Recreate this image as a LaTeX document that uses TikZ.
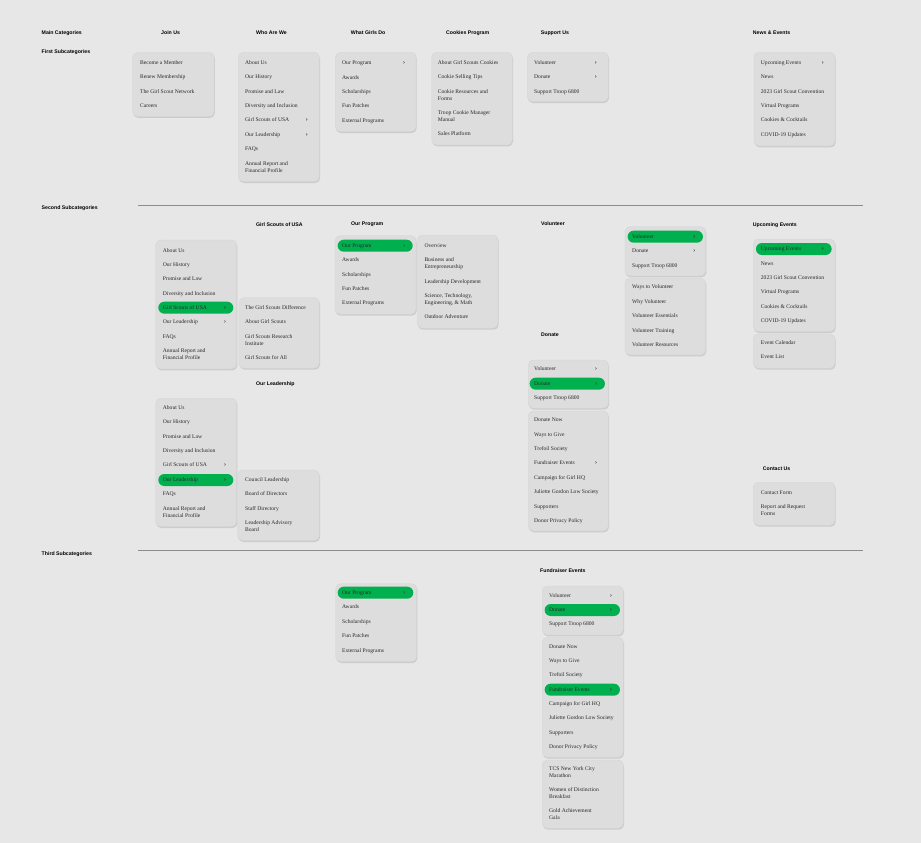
\documentclass[tikz,border=0pt]{standalone}
\usepackage{fontspec}
\setmainfont{Liberation Serif}
\newfontfamily\hfont{Liberation Sans}
\usetikzlibrary{shadows}
\definecolor{bg}{RGB}{231,231,231}
\definecolor{boxfill}{RGB}{221,221,221}
\definecolor{boxline}{RGB}{210,210,210}
\definecolor{gsgreen}{RGB}{0,176,78}
\definecolor{ink}{RGB}{40,40,40}
\definecolor{rule}{RGB}{140,140,140}
\newcommand\itemfont{\fontsize{5.6}{7}\selectfont}
\newcommand\chevfont{\fontsize{7}{7}\selectfont}
\newcommand\headfont{\hfont\bfseries\fontsize{5.2}{6}\selectfont}
\tikzset{
  menubox/.style={draw=boxline, fill=boxfill, rounded corners=5pt, line width=0.3pt,
    drop shadow={shadow xshift=0.7pt, shadow yshift=-1.4pt, opacity=0.26},
    anchor=north west, inner sep=0pt, outer sep=0pt},
  item/.style={anchor=west, inner sep=0pt, font=\itemfont, text=ink, align=left, text height=3.9pt, text depth=1.2pt},
  chev/.style={inner sep=0pt, font=\chevfont, text=ink},
  pill/.style={fill=gsgreen, rounded corners=6pt, minimum height=12pt, inner sep=0pt},
  head/.style={anchor=west, inner sep=0pt, font=\headfont, text=black},
  sep/.style={draw=rule, line width=0.8pt}
}
\begin{document}
\begin{tikzpicture}[x=1pt,y=-1pt]
\fill[bg] (0,0) rectangle (921,843);
\useasboundingbox (0,0) rectangle (921,843);

% ---------- headings ----------
\node[head] (h-main) at (41.5,33) {Main Categories};
\node[head] (h-join) at (161,33) {Join Us};
\node[head] (h-who) at (256,33) {Who Are We};
\node[head] (h-what) at (350.7,33) {What Girls Do};
\node[head] (h-cook) at (446,33) {Cookies Program};
\node[head] (h-supp) at (540.7,33) {Support Us};
\node[head] (h-news) at (752.7,33) {News \& Events};
\node[head] (h-first) at (41.5,52) {First Subcategories};
\node[head] (h-second) at (41.5,208) {Second Subcategories};
\node[head] (h-third) at (41.5,553.7) {Third Subcategories};

\coordinate (s1a) at (138,205); \coordinate (s1b) at (863,205);
\coordinate (s2a) at (138,550.3); \coordinate (s2b) at (863,550.3);
\draw[sep] (s1a) -- (s1b);
\draw[sep] (s2a) -- (s2b);

% ---------- First subcategories ----------
% Join Us
\node[menubox, minimum width=81.5pt, minimum height=64pt] (b-join) at (132.7,52.5) {};
\node[item] (join-1) at (140,63) {Become a Member};
\node[item] (join-2) at (140,77.3) {Renew Membership};
\node[item] (join-3) at (140,91.7) {The Girl Scout Network};
\node[item] (join-4) at (140,106) {Careers};

% Who Are We
\node[menubox, minimum width=81pt, minimum height=129.4pt] (b-who) at (238.3,52.3) {};
\node[item] (who-1) at (245,62.7) {About Us};
\node[item] (who-2) at (245,77.3) {Our History};
\node[item] (who-3) at (245,91.7) {Promise and Law};
\node[item] (who-4) at (245,106) {Diversity and Inclusion};
\node[item] (who-5) at (245,120) {Girl Scouts of USA};
\node[chev] (who-5c) at (306.7,120) {›};
\node[item] (who-6) at (245,134.7) {Our Leadership};
\node[chev] (who-6c) at (306.7,134.7) {›};
\node[item] (who-7) at (245,149.3) {FAQs};
\node[item] (who-8) at (245,170.7) {Annual Report and\\Financial Profile};

% What Girls Do
\node[menubox, minimum width=80.7pt, minimum height=79.4pt] (b-what) at (335.3,52.3) {};
\node[item] (what-1) at (342,63) {Our Program};
\node[chev] (what-1c) at (404,63) {›};
\node[item] (what-2) at (342,77.7) {Awards};
\node[item] (what-3) at (342,92) {Scholarships};
\node[item] (what-4) at (342,106.3) {Fun Patches};
\node[item] (what-5) at (342,120.7) {External Programs};

% Cookies Program
\node[menubox, minimum width=80.6pt, minimum height=92.7pt] (b-cook) at (431.7,52.3) {};
\node[item] (cook-1) at (437.7,63) {About Girl Scouts Cookies};
\node[item] (cook-2) at (437.7,77.3) {Cookie Selling Tips};
\node[item] (cook-3) at (437.7,98.7) {Cookie Resources and\\Forms};
\node[item] (cook-4) at (437.7,120) {Troop Cookie Manager\\Manual};
\node[item] (cook-5) at (437.7,134.3) {Sales Platform};

% Support Us
\node[menubox, minimum width=81pt, minimum height=49.4pt] (b-supp) at (527.3,52.3) {};
\node[item] (supp-1) at (534,63) {Volunteer};
\node[chev] (supp-1c) at (595.7,63) {›};
\node[item] (supp-2) at (534,77.3) {Donate};
\node[chev] (supp-2c) at (595.7,77.3) {›};
\node[item] (supp-3) at (534,91.7) {Support Troop 6800};

% News & Events
\node[menubox, minimum width=81pt, minimum height=93.7pt] (b-news) at (754,52.3) {};
\node[item] (news-1) at (760.7,63) {Upcoming Events};
\node[chev] (news-1c) at (822.7,63) {›};
\node[item] (news-2) at (760.7,77.3) {News};
\node[item] (news-3) at (760.7,91.7) {2023 Girl Scout Convention};
\node[item] (news-4) at (760.7,106) {Virtual Programs};
\node[item] (news-5) at (760.7,120.3) {Cookies \& Cocktails};
\node[item] (news-6) at (760.7,134.7) {COVID-19 Updates};

% ---------- Second subcategories ----------
% Girl Scouts of USA
\node[head] (h-gsusa) at (256,224.7) {Girl Scouts of USA};
\node[menubox, minimum width=81pt, minimum height=129pt] (b-a1) at (155.7,240) {};
\node[item] (a1-1) at (162.7,250.7) {About Us};
\node[item] (a1-2) at (162.7,265) {Our History};
\node[item] (a1-3) at (162.7,279.3) {Promise and Law};
\node[item] (a1-4) at (162.7,293.7) {Diversity and Inclusion};
\node[pill, minimum width=75pt] (a1-5p) at (195.8,307.7) {};
\node[item] (a1-5) at (162.7,307.7) {Girl Scouts of USA};
\node[chev] (a1-5c) at (225,307.7) {›};
\node[item] (a1-6) at (162.7,322.3) {Our Leadership};
\node[chev] (a1-6c) at (225,322.3) {›};
\node[item] (a1-7) at (162.7,336.7) {FAQs};
\node[item] (a1-8) at (162.7,358) {Annual Report and\\Financial Profile};

\node[menubox, minimum width=80.3pt, minimum height=70.6pt] (b-a2) at (239,297.7) {};
\node[item] (a2-1) at (245,307.7) {The Girl Scouts Difference};
\node[item] (a2-2) at (245,322.3) {About Girl Scouts};
\node[item] (a2-3) at (245,343.7) {Girl Scouts Research\\Institute};
\node[item] (a2-4) at (245,358) {Girl Scouts for All};

% Our Leadership
\node[head] (h-lead) at (256,384.3) {Our Leadership};
\node[menubox, minimum width=81pt, minimum height=128.4pt] (b-b1) at (155.7,398.3) {};
\node[item] (b1-1) at (162.7,408) {About Us};
\node[item] (b1-2) at (162.7,422.3) {Our History};
\node[item] (b1-3) at (162.7,436.7) {Promise and Law};
\node[item] (b1-4) at (162.7,451) {Diversity and Inclusion};
\node[item] (b1-5) at (162.7,465.3) {Girl Scouts of USA};
\node[chev] (b1-5c) at (225,465.3) {›};
\node[pill, minimum width=75pt] (b1-6p) at (195.8,480) {};
\node[item] (b1-6) at (162.7,480) {Our Leadership};
\node[chev] (b1-6c) at (225,480) {›};
\node[item] (b1-7) at (162.7,494.3) {FAQs};
\node[item] (b1-8) at (162.7,515.7) {Annual Report and\\Financial Profile};

\node[menubox, minimum width=81.6pt, minimum height=70.7pt] (b-b2) at (237.7,470) {};
\node[item] (b2-1) at (245,480) {Council Leadership};
\node[item] (b2-2) at (245,494.3) {Board of Directors};
\node[item] (b2-3) at (245,508.7) {Staff Directory};
\node[item] (b2-4) at (245,530) {Leadership Advisory\\Board};

% Our Program
\node[head] (h-prog) at (351,224.7) {Our Program};
\node[menubox, minimum width=81pt, minimum height=78.6pt] (b-c1) at (335,235.7) {};
\node[pill, minimum width=75pt] (c1-1p) at (375.2,245.7) {};
\node[item] (c1-1) at (342,245.7) {Our Program};
\node[chev] (c1-1c) at (404,245.7) {›};
\node[item] (c1-2) at (342,260) {Awards};
\node[item] (c1-3) at (342,274.7) {Scholarships};
\node[item] (c1-4) at (342,289) {Fun Patches};
\node[item] (c1-5) at (342,303.3) {External Programs};

\node[menubox, minimum width=80.7pt, minimum height=93.3pt] (b-c2) at (417.3,235) {};
\node[item] (c2-1) at (424.3,246) {Overview};
\node[item] (c2-2) at (424.3,267.3) {Business and\\Entrepreneurship};
\node[item] (c2-3) at (424.3,281.7) {Leadership Development};
\node[item] (c2-4) at (424.3,303) {Science, Technology,\\Engineering, \& Math};
\node[item] (c2-5) at (424.3,317) {Outdoor Adventure};

% Volunteer
\node[head] (h-vol) at (541,224) {Volunteer};
\node[menubox, minimum width=80.7pt, minimum height=49.3pt] (b-d1) at (625,226.7) {};
\node[pill, minimum width=75.3pt] (d1-1p) at (665.3,236.7) {};
\node[item] (d1-1) at (632,236.7) {Volunteer};
\node[chev] (d1-1c) at (694.3,236.7) {›};
\node[item] (d1-2) at (632,251) {Donate};
\node[chev] (d1-2c) at (694.3,251) {›};
\node[item] (d1-3) at (632,265.7) {Support Troop 6800};

\node[menubox, minimum width=80.7pt, minimum height=76.7pt] (b-d2) at (625,278.3) {};
\node[item] (d2-1) at (632,287) {Ways to Volunteer};
\node[item] (d2-2) at (632,301.7) {Why Volunteer};
\node[item] (d2-3) at (632,316) {Volunteer Essentials};
\node[item] (d2-4) at (632,330.7) {Volunteer Training};
\node[item] (d2-5) at (632,345) {Volunteer Resources};

% Donate
\node[head] (h-don) at (541,334.3) {Donate};
\node[menubox, minimum width=80pt, minimum height=48.3pt] (b-e1) at (528.3,360) {};
\node[item] (e1-1) at (534,369.3) {Volunteer};
\node[chev] (e1-1c) at (596,369.3) {›};
\node[pill, minimum width=75.3pt] (e1-2p) at (567.3,383.7) {};
\node[item] (e1-2) at (534,383.7) {Donate};
\node[chev] (e1-2c) at (596,383.7) {›};
\node[item] (e1-3) at (534,398.3) {Support Troop 6800};

\node[menubox, minimum width=80pt, minimum height=120pt] (b-e2) at (528.3,411) {};
\node[item] (e2-1) at (534,420.3) {Donate Now};
\node[item] (e2-2) at (534,434.7) {Ways to Give};
\node[item] (e2-3) at (534,449.3) {Trefoil Society};
\node[item] (e2-4) at (534,463.3) {Fundraiser Events};
\node[chev] (e2-4c) at (596,463.3) {›};
\node[item] (e2-5) at (534,478) {Campaign for Girl HQ};
\node[item] (e2-6) at (534,492.3) {Juliette Gordon Low Society};
\node[item] (e2-7) at (534,506.7) {Supporters};
\node[item] (e2-8) at (534,521) {Donor Privacy Policy};

% Upcoming Events
\node[head] (h-upc) at (752.7,224.7) {Upcoming Events};
\node[menubox, minimum width=81.7pt, minimum height=92.7pt] (b-f1) at (753.3,239) {};
\node[pill, minimum width=75.7pt] (f1-1p) at (793.8,249) {};
\node[item] (f1-1) at (760.7,249) {Upcoming Events};
\node[chev] (f1-1c) at (822.7,249) {›};
\node[item] (f1-2) at (760.7,263.7) {News};
\node[item] (f1-3) at (760.7,278) {2023 Girl Scout Convention};
\node[item] (f1-4) at (760.7,292.3) {Virtual Programs};
\node[item] (f1-5) at (760.7,306.7) {Cookies \& Cocktails};
\node[item] (f1-6) at (760.7,321) {COVID-19 Updates};

\node[menubox, minimum width=81.7pt, minimum height=34.3pt] (b-f2) at (753.3,334) {};
\node[item] (f2-1) at (760.7,342.7) {Event Calendar};
\node[item] (f2-2) at (760.7,357) {Event List};

% Contact Us
\node[head] (h-cont) at (762.7,468.3) {Contact Us};
\node[menubox, minimum width=81.7pt, minimum height=43pt] (b-g) at (753.3,482.3) {};
\node[item] (g-1) at (760.7,492.7) {Contact Form};
\node[item] (g-2) at (760.7,514.3) {Report and Request\\Forms};

% ---------- Third subcategories ----------
\node[menubox, minimum width=81pt, minimum height=78pt] (b-h) at (335.7,583.7) {};
\node[pill, minimum width=75.6pt] (h-1p) at (375.5,592.7) {};
\node[item] (h-1) at (342,592.7) {Our Program};
\node[chev] (h-1c) at (404,592.7) {›};
\node[item] (h-2) at (342,607.3) {Awards};
\node[item] (h-3) at (342,621.7) {Scholarships};
\node[item] (h-4) at (342,636) {Fun Patches};
\node[item] (h-5) at (342,650.7) {External Programs};

\node[head] (h-fund) at (540,571) {Fundraiser Events};
\node[menubox, minimum width=81pt, minimum height=49pt] (b-i1) at (542.3,586) {};
\node[item] (i1-1) at (549,595.7) {Volunteer};
\node[chev] (i1-1c) at (611,595.7) {›};
\node[pill, minimum width=75.3pt] (i1-2p) at (582.3,610) {};
\node[item] (i1-2) at (549,610) {Donate};
\node[chev] (i1-2c) at (611,610) {›};
\node[item] (i1-3) at (549,624.3) {Support Troop 6800};

\node[menubox, minimum width=81pt, minimum height=120pt] (b-i2) at (542.3,637.3) {};
\node[item] (i2-1) at (549,646.7) {Donate Now};
\node[item] (i2-2) at (549,660.7) {Ways to Give};
\node[item] (i2-3) at (549,675.3) {Trefoil Society};
\node[pill, minimum width=75.3pt] (i2-4p) at (582.3,689.7) {};
\node[item] (i2-4) at (549,689.7) {Fundraiser Events};
\node[chev] (i2-4c) at (611,689.7) {›};
\node[item] (i2-5) at (549,704) {Campaign for Girl HQ};
\node[item] (i2-6) at (549,718.3) {Juliette Gordon Low Society};
\node[item] (i2-7) at (549,732.7) {Supporters};
\node[item] (i2-8) at (549,747) {Donor Privacy Policy};

\node[menubox, minimum width=81pt, minimum height=68.3pt] (b-i3) at (542.3,760) {};
\node[item] (i3-1) at (549,776) {TCS New York City\\Marathon};
\node[item] (i3-2) at (549,797) {Women of Distinction\\Breakfast};
\node[item] (i3-3) at (549,818) {Gold Achievement\\Gala};
\end{tikzpicture}
\end{document}
